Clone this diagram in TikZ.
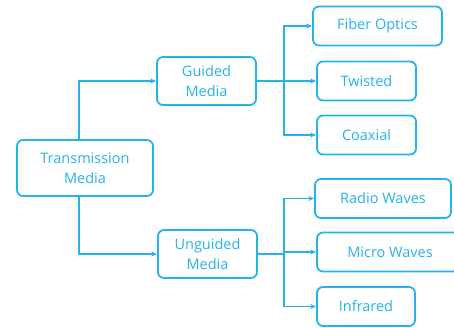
\documentclass[tikz,border=0pt]{standalone}
\usepackage{fontspec}
\setmainfont{Open Sans}
\usepackage{xcolor}
\definecolor{media}{RGB}{38,178,235}
\usetikzlibrary{arrows.meta}

\begin{document}
\begin{tikzpicture}[x=1pt,y=-1pt,
     box/.style={draw=media,rounded corners=6pt,line width=1.8pt,text=media,
                 align=center,inner sep=0pt,font=\fontsize{14.5}{20}\selectfont},
     link/.style={draw=media,line width=1.4pt,-{Stealth[length=6pt,width=5pt]}}
     ]
   \useasboundingbox (0,0) rectangle (454,327);

   % root and the two kinds of media
   \node[box,minimum width=136pt,minimum height=56pt] (trans) at (85,168) {Transmission\\Media};
   \node[box,minimum width=99pt,minimum height=48pt] (guided) at (206.5,81) {Guided\\Media};
   \node[box,minimum width=99pt,minimum height=48pt] (unguided) at (207.5,254) {Unguided\\Media};

   % leaves: name/text/x/y/width
   \foreach \name/\desc/\x/\y/\w
      in {fiber/{Fiber Optics}/377.5/26/129,
          twisted/{Twisted}/366.5/81/99,
          coaxial/{Coaxial}/366.5/135/99,
          radio/{Radio Waves}/383/198.5/136,
          micro/{Micro Waves}/390/252/146,
          infra/{Infrared}/366/306.5/98}
   {
     \node[box,minimum width=\w pt,minimum height=39pt] (\name) at (\x,\y) {\desc};
   }

   \draw[link] ([xshift=-6pt]trans.north) |- (guided.west);
   \draw[link] ([xshift=-6pt]trans.south) |- (unguided.west);

   \foreach \leaf in {fiber,twisted,coaxial}
      \draw[link] (guided.east) -- ++(27,0) |- (\leaf.west);
   \foreach \leaf in {radio,micro,infra}
      \draw[link] (unguided.east) -- ++(26,0) |- (\leaf.west);
 \end{tikzpicture}
\end{document}
